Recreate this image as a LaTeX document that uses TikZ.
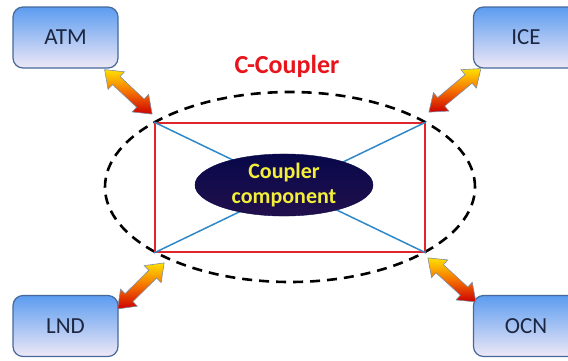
\documentclass[tikz,border=0pt]{standalone}
\usepackage{fontspec}
\setmainfont{Carlito}
\usetikzlibrary{calc,shapes.geometric}

\definecolor{boxedge}{HTML}{46699A}
\definecolor{boxtop}{HTML}{5C9CF0}
\definecolor{boxbot}{HTML}{EEE8F6}
\definecolor{labeltext}{HTML}{1C2640}
\definecolor{cplred}{HTML}{E8141C}
\definecolor{rectred}{HTML}{E0262C}
\definecolor{crossblue}{HTML}{2F88C8}
\definecolor{compnavy}{HTML}{08084A}
\definecolor{comppurple}{HTML}{22104C}
\definecolor{comptext}{HTML}{F2EE3A}
\definecolor{arrowedge}{HTML}{7F8CA6}
\definecolor{arrowyellow}{HTML}{FFE000}
\definecolor{arroworange}{HTML}{F57000}
\definecolor{arrowred}{HTML}{CC0000}

\tikzset{
  model/.style={rectangle, rounded corners=10pt, draw=boxedge, line width=1.2pt,
    top color=boxtop, bottom color=boxbot, minimum width=105pt, minimum height=61pt,
    inner sep=0pt, text=labeltext, font=\fontsize{23}{27}\selectfont},
  couplerring/.style={ellipse, draw=black, line width=2.6pt, dash pattern=on 10pt off 7pt,
    minimum width=370pt, minimum height=190pt, inner sep=0pt},
  couplerframe/.style={rectangle, draw=rectred, line width=1.8pt,
    minimum width=270pt, minimum height=129pt, inner sep=0pt},
  crossline/.style={draw=crossblue, line width=1.5pt},
  component/.style={ellipse, top color=compnavy, bottom color=comppurple, draw=compnavy,
    minimum width=178pt, minimum height=55pt, inner sep=0pt, text=comptext,
    align=center, font=\bfseries\fontsize{22}{25}\selectfont},
  arrowbody/.style={draw=arrowedge, line width=0.6pt, line join=miter,
    top color=arrowyellow, bottom color=arrowred, middle color=arroworange},
}

% fat two-headed arrow between two named points
\newcommand\fatarrow[2]{%
  \path ($(#1)!16pt!(#2)$) coordinate (fa1) ($(#2)!16pt!(#1)$) coordinate (fa2);
  \path[arrowbody] (#1)
    -- ($(fa1)!12pt!90:(#2)$) -- ($(fa1)!5.5pt!90:(#2)$)
    -- ($(fa2)!5.5pt!-90:(#1)$) -- ($(fa2)!12pt!-90:(#1)$)
    -- (#2)
    -- ($(fa2)!12pt!90:(#1)$) -- ($(fa2)!5.5pt!90:(#1)$)
    -- ($(fa1)!5.5pt!-90:(#2)$) -- ($(fa1)!12pt!-90:(#2)$)
    -- cycle;}

\begin{document}
\begin{tikzpicture}[x=1pt, y=-1pt]
  \useasboundingbox (0,0) rectangle (568,360);
  \clip (0,0) rectangle (568,360);

  % component models
  \node[model] (atm) at (65.5,37.5) {ATM};
  \node[model] (ice) at (526,37.5) {ICE};
  \node[model] (lnd) at (65.5,326) {LND};
  \node[model] (ocn) at (526,326) {OCN};

  % the coupler: dashed ring, frame and cross
  \node[couplerring] (ring) at (290,187) {};
  \node[couplerframe] (frame) at (290,187.5) {};
  \path[crossline] (frame.north west) -- (frame.south east);
  \path[crossline] (frame.north east) -- (frame.south west);
  \node[text=cplred, font=\bfseries\fontsize{26}{30}\selectfont] (title) at (287,66) {C-Coupler};
  \node[component] (comp) at (284,185) {Coupler\\component};

  % arrow end points
  \coordinate (atmEnd) at ([shift={(-14,1)}]atm.south east);
  \coordinate (atmCpl) at ([shift={(-2,-8)}]frame.north west);
  \coordinate (iceEnd) at ([shift={(8,0)}]ice.south west);
  \coordinate (iceCpl) at ([shift={(3,-10)}]frame.north east);
  \coordinate (lndEnd) at ([shift={(-1,14)}]lnd.north east);
  \coordinate (lndCpl) at ([shift={(10,10)}]frame.south west);
  \coordinate (ocnEnd) at ([shift={(3,7)}]ocn.north west);
  \coordinate (ocnCpl) at ([shift={(2,5)}]frame.south east);

  \fatarrow{atmEnd}{atmCpl}
  \fatarrow{iceEnd}{iceCpl}
  \fatarrow{lndEnd}{lndCpl}
  \fatarrow{ocnEnd}{ocnCpl}
\end{tikzpicture}
\end{document}
